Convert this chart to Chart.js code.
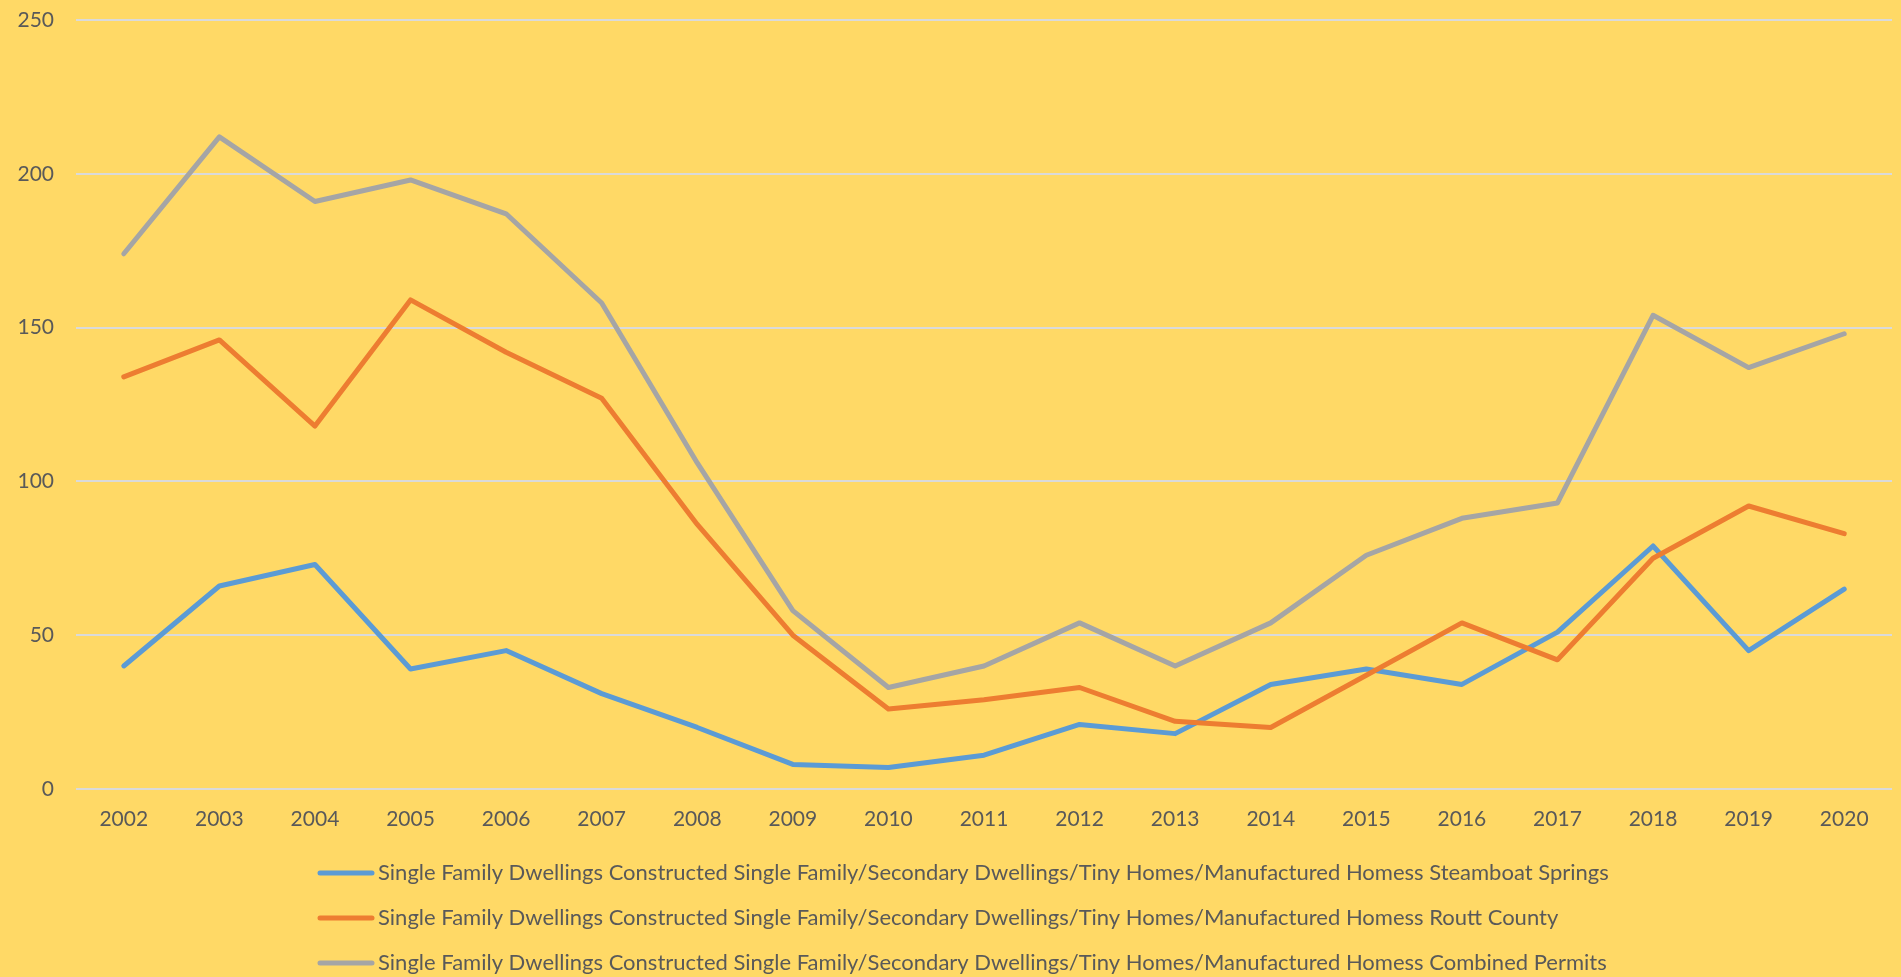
<!DOCTYPE html>
<html>
<head>
<meta charset="utf-8">
<script src="https://cdn.jsdelivr.net/npm/chart.js@4.4.0/dist/chart.umd.min.js"></script>
<style>
html,body{margin:0;padding:0;background:#FFD966;overflow:hidden}
#wrap{width:1901px;height:977px;position:relative}
</style>
</head>
<body>
<div id="wrap"><canvas id="c"></canvas></div>
<script>
const years = ['2002','2003','2004','2005','2006','2007','2008','2009','2010','2011','2012','2013','2014','2015','2016','2017','2018','2019','2020'];
const steamboatSprings = [40, 66, 73, 39, 45, 31, 20, 8, 7, 11, 21, 18, 34, 39, 34, 51, 79, 45, 65];
const routtCounty = [134, 146, 118, 159, 142, 127, 86, 50, 26, 29, 33, 22, 20, 37, 54, 42, 75, 92, 83];
const combinedPermits = [174, 212, 191, 198, 187, 158, 106, 58, 33, 40, 54, 40, 54, 76, 88, 93, 154, 137, 148];
const seriesNames = [
  'Single Family Dwellings Constructed Single Family/Secondary Dwellings/Tiny Homes/Manufactured Homess Steamboat Springs',
  'Single Family Dwellings Constructed Single Family/Secondary Dwellings/Tiny Homes/Manufactured Homess Routt County',
  'Single Family Dwellings Constructed Single Family/Secondary Dwellings/Tiny Homes/Manufactured Homess Combined Permits'
];
const yMin = 0, yMax = 250, yStep = 50;

const FONT = 'Lato';
const TEXT = '#595959';
const colors = ['#5B9BD5', '#ED7D31', '#A5A5A5'];

const legendPlugin = {
  id: 'leftLegend',
  afterDraw(chart) {
    const ctx = chart.ctx;
    ctx.save();
    ctx.font = '22px ' + FONT;
    const ds = chart.data.datasets;
    const widths = ds.map(d => ctx.measureText(d.label).width);
    const maxW = Math.max(...widths);
    const sample = 56, gap = 4;
    const blockW = sample + gap + maxW;
    const left = Math.round(963 - blockW / 2);
    ds.forEach((d, i) => {
      const y = 873 + i * 45;
      ctx.strokeStyle = d.borderColor;
      ctx.lineWidth = 5;
      ctx.lineCap = 'round';
      ctx.beginPath();
      ctx.moveTo(left + 2, y);
      ctx.lineTo(left + sample - 2, y);
      ctx.stroke();
      ctx.fillStyle = TEXT;
      ctx.textBaseline = 'middle';
      ctx.textAlign = 'left';
      ctx.fillText(d.label, left + sample + gap, y);
    });
    ctx.restore();
  }
};

const mk = (label, data, color, order) => ({
  label, data, borderColor: color, backgroundColor: color,
  borderWidth: 5, pointRadius: 0, pointHoverRadius: 0, fill: false, tension: 0,
  borderCapStyle: 'round', borderJoinStyle: 'round', order
});

new Chart(document.getElementById('c'), {
  type: 'line',
  data: {
    labels: years,
    datasets: [
      mk(seriesNames[0], steamboatSprings, colors[0], 2),
      mk(seriesNames[1], routtCounty, colors[1], 1),
      mk(seriesNames[2], combinedPermits, colors[2], 0)
    ]
  },
  options: {
    responsive: true,
    maintainAspectRatio: false,
    animation: false,
    devicePixelRatio: 1,
    layout: { padding: { left: 0, right: 9, top: 20, bottom: 138 } },
    plugins: { legend: { display: false }, tooltip: { enabled: false } },
    scales: {
      x: {
        offset: true,
        grid: { display: false, drawTicks: false },
        border: { display: false },
        ticks: { color: TEXT, font: { family: FONT, size: 21 }, padding: 18, maxRotation: 0, autoSkip: false },
        afterFit(s) { s.height = 50; s.paddingTop = 0; s.paddingBottom = 0; }
      },
      y: {
        min: yMin, max: yMax,
        grid: { color: '#DADADA', lineWidth: 2, drawTicks: false },
        border: { display: false },
        ticks: { stepSize: yStep, color: TEXT, font: { family: FONT, size: 21 }, padding: 22 },
        afterFit(s) { s.width = 76; s.paddingTop = 0; s.paddingBottom = 0; }
      }
    }
  },
  plugins: [legendPlugin]
});
</script>
</body>
</html>
